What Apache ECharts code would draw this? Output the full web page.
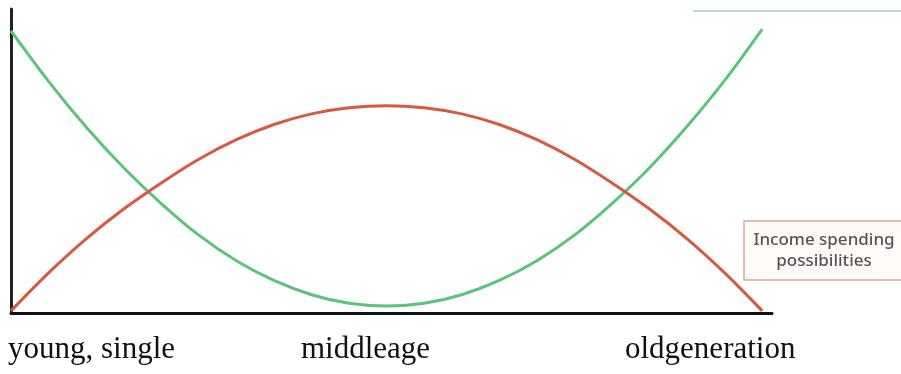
<!DOCTYPE html>
<html>
<head>
<meta charset="utf-8">
<script src="https://cdn.jsdelivr.net/npm/echarts@6/dist/echarts.min.js"></script>
<style>
    html, body { margin: 0; padding: 0; background: #fff; }
    #chart { width: 901px; height: 374px; }
</style>
</head>
<body>
<div id="chart"></div>
<script>
    // position along life (0 = young, 100 = old)
    const lifeStage = [0, 5, 10, 15, 20, 25, 30, 35, 40, 45, 50, 55, 60, 65, 70, 75, 80, 85, 90, 95, 100];
    // red curve: income spending possibilities
    const incomeValues = [0.7, 13.2, 24.4, 34.2, 42.8, 50.6, 57, 62, 65.5, 67.5, 68.2, 67.5, 65.5, 62, 57, 50.6, 42.8, 34.2, 24.4, 13.2, 0.7];
    // green curve
    const greenValues = [92.8, 76.2, 61.2, 47.8, 36, 25.6, 17.2, 10.7, 6, 3.2, 2.3, 3.2, 6, 10.7, 17.2, 25.6, 36, 47.8, 61.4, 76.5, 93.4];
    // labels under the axis
    const stageLabels = ['young, single', 'middleage', 'oldgeneration'];
    const legendText = ['Income spending', 'possibilities'];

    const myChart = echarts.init(document.getElementById('chart'));

    const toPairs = (ys) => lifeStage.map((x, i) => [x, ys[i]]);

    const serifFont = '31px "Liberation Serif", serif';
    const boxFont = '500 17px "Noto Sans", sans-serif';

    const option = {
        backgroundColor: '#fff',
        animation: false,
        grid: { left: 11, right: 129, top: 9, bottom: 61 },
        xAxis: {
            type: 'value',
            min: 0,
            max: 101.3,
            axisLine: { show: true, onZero: false, lineStyle: { color: '#111', width: 3 } },
            axisTick: { show: false },
            axisLabel: { show: false },
            splitLine: { show: false }
        },
        yAxis: {
            type: 'value',
            min: 0,
            max: 100,
            axisLine: { show: true, lineStyle: { color: '#222', width: 3 } },
            axisTick: { show: false },
            axisLabel: { show: false },
            splitLine: { show: false }
        },
        series: [
            {
                name: 'green',
                type: 'line',
                smooth: 0.3,
                symbol: 'none',
                data: toPairs(greenValues),
                lineStyle: { color: '#5cc47a', width: 3 },
                z: 2
            },
            {
                name: 'income',
                type: 'line',
                smooth: 0.3,
                symbol: 'none',
                data: toPairs(incomeValues),
                lineStyle: { color: '#d9583f', width: 3 },
                z: 3
            }
        ],
        graphic: [
            // fragment of a legend at top right
            {
                type: 'line',
                shape: { x1: 693, y1: 11, x2: 901, y2: 11 },
                style: { stroke: '#b9ddc6', lineWidth: 2 }
            },
            {
                type: 'rect',
                shape: { x: 744, y: 221, width: 170, height: 59 },
                style: { fill: '#fffaf7', stroke: '#d2aa9c', lineWidth: 1.5 }
            },
            {
                type: 'text',
                x: 824, y: 240,
                style: { text: legendText[0], fill: '#555', font: boxFont, align: 'center', verticalAlign: 'middle' }
            },
            {
                type: 'text',
                x: 824, y: 261,
                style: { text: legendText[1], fill: '#555', font: boxFont, align: 'center', verticalAlign: 'middle' }
            },
            {
                type: 'text',
                left: 8, top: 334,
                style: { text: stageLabels[0], fill: '#111', font: serifFont }
            },
            {
                type: 'text',
                left: 301, top: 334,
                style: { text: stageLabels[1], fill: '#111', font: serifFont }
            },
            {
                type: 'text',
                left: 625, top: 334,
                style: { text: stageLabels[2], fill: '#111', font: serifFont }
            }
        ]
    };
    myChart.setOption(option, true);
</script>
</body>
</html>
